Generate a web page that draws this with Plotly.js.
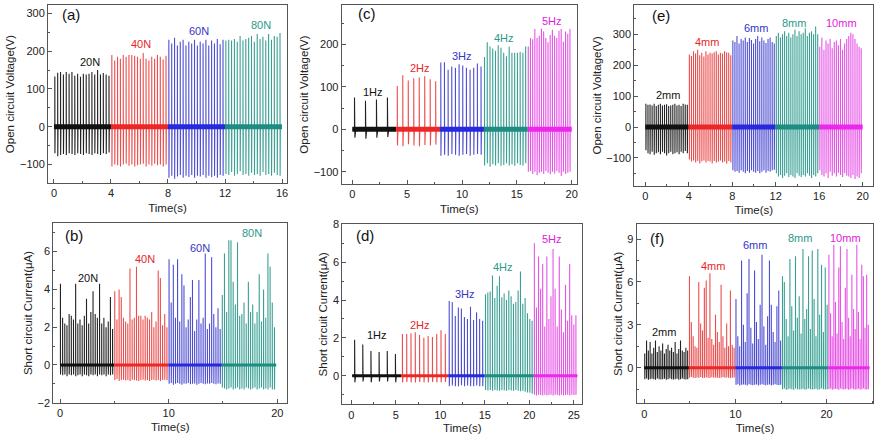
<!DOCTYPE html>
<html><head><meta charset="utf-8">
<script src="https://cdn.plot.ly/plotly-3.0.1.min.js"></script>
<style>html,body{margin:0;padding:0;background:#fff}#g{width:879px;height:434px}</style>
</head><body><div id="g"></div>
<script>
// ---------- (a) force: open circuit voltage (V) ----------
const aLabels = ['20N','40N','60N','80N'];
const aSegs = [[0,4],[4,8],[8,12],[12,16]];
const aPeaks20 = [133,143,145,138,145,140,145,135,140,132,140,138,140,145,138,150,138,142,138,135];
const aTroughs20 = [-70,-78,-75,-72,-75,-70,-72,-75,-70,-72,-75,-70,-72,-75,-70,-72,-75,-70,-72,-68];
const aPeaks40 = [190,175,185,180,190,185,190,190,188,185,180,195,180,175,185,180,190,185,178,188];
const aTroughs40 = [-105,-100,-102,-105,-100,-98,-103,-100,-105,-102,-100,-98,-105,-100,-103,-98,-102,-100,-105,-100];
const aPeaks60 = [230,220,235,215,225,230,215,225,220,230,215,225,220,230,215,228,220,232,218,230];
const aTroughs60 = [-135,-130,-138,-132,-128,-135,-130,-133,-128,-135,-130,-132,-128,-135,-130,-133,-130,-135,-128,-130];
const aPeaks80 = [228,230,228,232,225,240,228,232,235,240,225,245,232,238,228,245,230,240,238,248];
const aTroughs80 = [-125,-128,-120,-130,-125,-118,-128,-125,-130,-122,-128,-125,-130,-120,-128,-125,-130,-122,-128,-130];

// ---------- (b) force: short circuit current (uA) ----------
const bSegs = [[0,5],[5,10],[10,14.9],[14.9,19.9]];
const bPeaks20 = [4.3,2.5,2.2,2.1,2.7,2.6,2.4,4.3,2.2,2.4,2.1,2.6,3.5,2.2,2.8,3.9,2.7,2.5,4.3,2.2,2.5,2.0,2.3,3.6,1.9];
const bTroughs20 = [-0.5,-0.55,-0.5,-0.6,-0.5,-0.55,-0.5,-0.6,-0.55,-0.5,-0.6,-0.5,-0.55,-0.6,-0.5,-0.55,-0.5,-0.6,-0.5,-0.55,-0.5,-0.6,-0.5,-0.55,-0.5];
const bPeaks40 = [3.9,2.4,4.0,3.6,2.5,2.3,2.2,5.1,2.4,2.5,5.2,2.6,2.6,2.4,2.6,2.5,2.4,2.8,2.0,2.3,5.0,4.6,2.1,2.7,2.0];
const bTroughs40 = [-0.8,-0.75,-0.85,-0.8,-0.78,-0.82,-0.8,-0.85,-0.78,-0.8,-0.82,-0.85,-0.8,-0.78,-0.82,-0.8,-0.85,-0.8,-0.78,-0.82,-0.8,-0.85,-0.8,-0.78,-0.8];
const bPeaks60 = [5.6,3.3,5.3,2.5,5.6,2.3,4.8,4.2,2.0,2.4,3.6,4.5,1.8,2.4,4.5,2.2,2.5,5.9,1.9,2.2,5.7,2.7,2.0,3.0,1.9];
const bTroughs60 = [-1.0,-0.95,-1.05,-1.0,-0.95,-1.0,-1.05,-0.98,-1.0,-0.95,-1.02,-1.0,-0.98,-1.05,-1.0,-0.95,-1.0,-1.02,-0.98,-1.0,-0.95,-1.0,-1.02,-0.98,-1.0];
const bPeaks80 = [3.7,5.9,2.8,6.6,6.6,4.4,3.2,6.5,2.6,2.7,3.3,2.2,4.4,2.8,3.2,2.2,2.8,4.8,2.3,4.0,2.5,5.9,5.2,3.3,2.0];
const bTroughs80 = [-1.2,-1.25,-1.3,-1.25,-1.2,-1.3,-1.25,-1.2,-1.3,-1.25,-1.3,-1.2,-1.25,-1.3,-1.25,-1.2,-1.3,-1.25,-1.2,-1.3,-1.25,-1.3,-1.2,-1.3,-1.3];

// ---------- (c) frequency: open circuit voltage (V) ----------
const cLabels = ['1Hz','2Hz','3Hz','4Hz','5Hz'];
const cSegs = [[0,4],[4,8],[8,12],[12,16],[16,20]];
const cPeaks1 = [75,67,70,75];
const cTroughs1 = [-20,-22,-20,-18];
const cPeaks2 = [102,127,115,120,122,125,118,113];
const cTroughs2 = [-38,-40,-35,-38,-40,-37,-38,-36];
const cPeaks3 = [157,158,140,148,145,153,150,145,140,145,155,148];
const cTroughs3 = [-62,-60,-62,-58,-60,-62,-60,-58,-62,-60,-58,-60];
const cPeaks4 = [170,205,195,190,185,198,192,180,172,195,180,180,180,182,180,195];
const cTroughs4 = [-85,-80,-88,-82,-85,-80,-86,-84,-80,-85,-82,-86,-80,-84,-85,-80];
const cPeaks5 = [195,215,212,236,215,220,237,230,215,205,222,234,220,215,232,236,206,230,225,236];
const cTroughs5 = [-100,-98,-105,-100,-108,-102,-100,-105,-98,-102,-106,-100,-104,-98,-102,-110,-100,-105,-102,-100];

// ---------- (d) frequency: short circuit current (uA) ----------
const dSegs = [[0.1,5.6],[5.6,10.9],[10.9,15],[15,20.5],[20.5,25.4]];
const dPeaks1 = [1.9,1.65,1.3,1.25,1.3,1.15];
const dTroughs1 = [-0.35,-0.3,-0.35,-0.3,-0.3,-0.35];
const dPeaks2 = [2.2,2.2,2.25,2.3,2.15,2.0,2.1,2.05,2.2,2.4,2.2];
const dTroughs2 = [-0.35,-0.33,-0.35,-0.35,-0.33,-0.35,-0.35,-0.33,-0.35,-0.35,-0.33];
const dPeaks3 = [3.95,3.9,3.15,3.6,3.55,3.1,3.0,3.65,2.95,3.35,3.0,2.9];
const dTroughs3 = [-0.55,-0.52,-0.55,-0.55,-0.5,-0.55,-0.52,-0.55,-0.55,-0.52,-0.55,-0.55];
const dPeaks4 = [4.3,4.4,4.45,5.3,4.1,4.75,5.25,4.15,4.35,4.0,4.5,4.2,3.8,3.9,4.5,5.5,3.8,4.1,3.3,3.0,2.9];
const dTroughs4 = [-0.75,-0.78,-0.75,-0.8,-0.75,-0.78,-0.8,-0.75,-0.78,-0.8,-0.75,-0.78,-0.8,-0.75,-0.8,-0.82,-0.8,-0.85,-0.88,-0.9,-0.95];
const dPeaks5 = [7.0,3.6,6.3,4.6,5.9,2.6,6.3,3.0,4.2,6.7,4.6,2.6,6.3,3.5,2.3,4.8,2.9,5.9,3.2,2.7,3.2];
const dTroughs5 = [-1.0,-1.05,-1.0,-1.02,-1.05,-1.0,-1.05,-1.02,-1.0,-1.05,-1.0,-1.02,-1.05,-1.0,-1.05,-1.02,-1.0,-1.05,-1.0,-1.02,-1.0];

// ---------- (e) distance: open circuit voltage (V) ----------
const eLabels = ['2mm','4mm','6mm','8mm','10mm'];
const eSegs = [[0,4],[4,8],[8,12],[12,16],[16,20]];
const ePeaks2 = [75,72,73,70,75,68,72,75,70,72,74,68,70,72,75,70,72,68,75,73,72];
const eTroughs2 = [-75,-85,-88,-80,-90,-85,-82,-88,-80,-85,-92,-85,-80,-88,-85,-82,-88,-80,-85,-78,-85];
const ePeaks4 = [235,230,245,238,250,232,240,228,245,235,240,238,242,245,235,240,238,245,242,240,232];
const eTroughs4 = [-105,-112,-108,-115,-110,-118,-112,-108,-115,-110,-112,-118,-110,-115,-112,-108,-115,-112,-118,-110,-115];
const ePeaks6 = [280,275,295,270,285,280,290,275,288,282,270,285,295,278,290,280,272,285,290,275,270];
const eTroughs6 = [-140,-145,-142,-148,-140,-145,-150,-142,-148,-140,-145,-148,-142,-150,-145,-140,-148,-142,-145,-140,-138];
const ePeaks8 = [295,305,290,300,310,295,305,290,300,315,295,310,300,305,320,295,305,310,300,325,300];
const eTroughs8 = [-150,-160,-155,-165,-158,-150,-162,-155,-160,-165,-150,-158,-162,-155,-160,-150,-158,-165,-155,-160,-150];
const ePeaks10 = [260,290,250,280,270,285,255,275,280,265,285,250,270,285,295,305,300,285,270,260,255];
const eTroughs10 = [-140,-155,-160,-150,-165,-145,-158,-150,-160,-148,-155,-162,-150,-158,-160,-165,-155,-168,-160,-165,-150];

// ---------- (f) distance: short circuit current (uA) ----------
const fSegs = [[0,4.9],[4.9,10],[10,15.1],[15.1,20.2],[20.2,24.7]];
const fPeaks2 = [1.0,1.9,1.2,1.8,1.0,1.4,1.9,1.1,1.5,1.2,1.7,1.0,1.3,1.6,1.2,1.4,1.1,1.8,1.0,1.3,1.9,1.2,1.1,1.4,1.2];
const fTroughs2 = [-0.8,-0.75,-0.85,-0.8,-0.78,-0.8,-0.85,-0.75,-0.8,-0.82,-0.8,-0.78,-0.85,-0.8,-0.75,-0.8,-0.82,-0.8,-0.78,-0.85,-0.8,-0.75,-0.8,-0.82,-0.8];
const fPeaks4 = [6.4,3.2,2.2,1.5,1.4,6.0,3.1,2.6,5.6,6.1,2.1,6.6,2.0,1.6,3.7,2.5,1.8,5.8,2.2,1.4,3.1,1.5,5.4,1.6,1.4];
const fTroughs4 = [-0.7,-0.65,-0.7,-0.72,-0.68,-0.7,-0.65,-0.72,-0.7,-0.68,-0.7,-0.72,-0.65,-0.7,-0.68,-0.7,-0.72,-0.7,-0.65,-0.7,-0.68,-0.7,-0.72,-0.7,-0.68];
const fPeaks6 = [4.8,2.2,1.5,7.5,3.0,1.8,5.2,7.6,2.8,1.7,6.8,3.2,2.0,4.4,7.9,2.9,1.6,3.6,7.5,4.4,2.5,1.8,4.3,5.4,1.9];
const fTroughs6 = [-1.2,-1.15,-1.25,-1.2,-1.18,-1.2,-1.25,-1.15,-1.2,-1.22,-1.2,-1.18,-1.25,-1.2,-1.15,-1.2,-1.22,-1.2,-1.18,-1.25,-1.2,-1.15,-1.2,-1.22,-1.2];
const fPeaks8 = [6.4,6.0,3.4,2.2,7.6,4.3,2.6,7.8,3.5,5.0,2.4,8.3,3.4,4.1,7.8,2.7,8.2,4.8,2.2,8.3,3.7,7.2,2.5,7.0,4.4];
const fTroughs8 = [-1.5,-1.45,-1.55,-1.5,-1.48,-1.5,-1.55,-1.45,-1.5,-1.52,-1.5,-1.48,-1.55,-1.5,-1.45,-1.5,-1.52,-1.5,-1.48,-1.55,-1.5,-1.45,-1.5,-1.52,-1.5];
const fPeaks10 = [7.9,3.8,2.2,8.6,4.6,2.4,7.0,8.5,3.2,2.0,5.6,8.3,3.5,2.2,6.5,4.1,2.7,8.6,3.9,2.0,7.2,6.4,2.8,6.5,3.0];
const fTroughs10 = [-1.5,-1.45,-1.55,-1.5,-1.48,-1.5,-1.55,-1.45,-1.5,-1.52,-1.5,-1.48,-1.55,-1.5,-1.45,-1.5,-1.52,-1.5,-1.48,-1.55,-1.5,-1.45,-1.5,-1.52,-1.5];

// ---------- styling ----------
const lineCols = ['#222222','rgb(236,78,78)','rgb(78,78,212)','rgb(58,160,148)','rgb(230,84,230)'];
const baseCols = ['#111111','rgb(235,40,40)','rgb(40,40,220)','rgb(30,140,128)','rgb(235,40,235)'];
const textCols = ['#111111','#e8262a','#3434c8','#2a9a8a','#e020e0'];
const FONT = 'Arial, "Liberation Sans", sans-serif';

function segTrace(seg, peaks, troughs, color, xa, ya, frac) {
  const n = peaks.length, step = (seg[1]-seg[0])/n, w = step*0.12;
  const x = [seg[0]], y = [0];
  for (let i=0;i<n;i++){
    const t = seg[0] + (i+frac)*step;
    x.push(t, t, t+w*0.3, t+w); y.push(0, peaks[i], troughs[i], 0);
  }
  x.push(seg[1]); y.push(0);
  return {x, y, type:'scatter', mode:'lines', xaxis:xa, yaxis:ya, hoverinfo:'skip',
          line:{color, width:1.1}, showlegend:false};
}
function baseTrace(seg, color, xa, ya, width) {
  return {x:[seg[0], seg[1]], y:[0,0], type:'scatter', mode:'lines', xaxis:xa, yaxis:ya,
          hoverinfo:'skip', line:{color, width}, showlegend:false};
}

const traces = [];
const panels = [
  {xa:'x', ya:'y', segs:aSegs, bw:5, data:[[aPeaks20,aTroughs20],[aPeaks40,aTroughs40],[aPeaks60,aTroughs60],[aPeaks80,aTroughs80]], frac:0.3},
  {xa:'x2', ya:'y2', segs:cSegs, bw:5, data:[[cPeaks1,cTroughs1],[cPeaks2,cTroughs2],[cPeaks3,cTroughs3],[cPeaks4,cTroughs4],[cPeaks5,cTroughs5]], frac:0.2},
  {xa:'x3', ya:'y3', segs:eSegs, bw:5, data:[[ePeaks2,eTroughs2],[ePeaks4,eTroughs4],[ePeaks6,eTroughs6],[ePeaks8,eTroughs8],[ePeaks10,eTroughs10]], frac:0.3},
  {xa:'x4', ya:'y4', segs:bSegs, bw:3, data:[[bPeaks20,bTroughs20],[bPeaks40,bTroughs40],[bPeaks60,bTroughs60],[bPeaks80,bTroughs80]], frac:0.2},
  {xa:'x5', ya:'y5', segs:dSegs, bw:3, data:[[dPeaks1,dTroughs1],[dPeaks2,dTroughs2],[dPeaks3,dTroughs3],[dPeaks4,dTroughs4],[dPeaks5,dTroughs5]], frac:0.3},
  {xa:'x6', ya:'y6', segs:fSegs, bw:3, data:[[fPeaks2,fTroughs2],[fPeaks4,fTroughs4],[fPeaks6,fTroughs6],[fPeaks8,fTroughs8],[fPeaks10,fTroughs10]], frac:0.3}
];
panels.forEach(p => p.data.forEach((d,i) => {
  traces.push(segTrace(p.segs[i], d[0], d[1], lineCols[i], p.xa, p.ya, p.frac));
  traces.push(baseTrace(p.segs[i], baseCols[i], p.xa, p.ya, p.bw));
}));

function xAxis(dom, range, dtick, anchor) {
  return {domain:dom, range, dtick, tick0:0, anchor, showgrid:false, zeroline:false,
    showline:true, mirror:true, linecolor:'#555', linewidth:1, ticks:'inside', ticklen:4, tickcolor:'#555',
    minor:{ticks:'inside', ticklen:2, dtick:dtick/2, tickcolor:'#555'},
    tickfont:{family:FONT, size:11, color:'#222'},
    title:{text:'Time(s)', font:{family:FONT, size:11.5, color:'#222'}, standoff:5}};
}
function yAxis(dom, range, dtick, anchor, title) {
  return {domain:dom, range, dtick, tick0:0, anchor, showgrid:false, zeroline:false,
    showline:true, mirror:true, linecolor:'#555', linewidth:1, ticks:'inside', ticklen:4, tickcolor:'#555',
    minor:{ticks:'inside', ticklen:2, dtick:dtick/2, tickcolor:'#555'},
    tickfont:{family:FONT, size:11, color:'#222'},
    title:{text:title, font:{family:FONT, size:11.5, color:'#222'}, standoff:2}};
}
const VT = 'Open circuit Voltage(V)', IT = 'Short circuit Current(\u03bcA)';

const layout = {
  width:879, height:434, margin:{l:0,r:0,t:0,b:0}, paper_bgcolor:'#fff', plot_bgcolor:'#fff',
  showlegend:false, font:{family:FONT},
  xaxis:  xAxis([0.0546,0.3265], [-0.42,16.35], 4, 'y'),
  yaxis:  yAxis([0.5783,0.9885], [-149,322], 100, 'x', VT),
  xaxis2: xAxis([0.3887,0.6564], [-0.97,20.48], 5, 'y2'),
  yaxis2: yAxis([0.576,0.9885], [-128.7,292.5], 100, 'x2', VT),
  xaxis3: xAxis([0.7216,0.9935], [-1.01,20.98], 4, 'y3'),
  yaxis3: yAxis([0.5721,0.9885], [-190,395], 100, 'x3', VT),
  xaxis4: xAxis([0.0606,0.3268], [-0.62,20.92], 10, 'y4'),
  yaxis4: yAxis([0.0721,0.4855], [-2,7.5], 2, 'x4', IT),
  xaxis5: xAxis([0.3894,0.6625], [-1.01,25.96], 5, 'y5'),
  yaxis5: yAxis([0.0684,0.4832], [-1.51,8], 2, 'x5', IT),
  xaxis6: xAxis([0.7243,0.9935], [-0.83,25.12], 10, 'y6'),
  yaxis6: yAxis([0.0707,0.4832], [-2.49,10.03], 3, 'x6', IT),
  annotations:[]
};

// label positions (data coords) per panel
const labelSets = [
  {xa:'x', ya:'y', tag:'(a)', tagPos:[0.45,297], labels:aLabels, pos:[[2.5,170],[6.1,218],[10.2,252],[14.5,270]]},
  {xa:'x2', ya:'y2', tag:'(c)', tagPos:[0.3,272], labels:cLabels, pos:[[1.9,88],[6.15,144],[10.0,172],[13.8,215],[18.2,255]]},
  {xa:'x3', ya:'y3', tag:'(e)', tagPos:[0.4,362], labels:eLabels, pos:[[2.1,104],[5.65,275],[10.2,320],[13.7,337],[18.1,337]]},
  {xa:'x4', ya:'y4', tag:'(b)', tagPos:[0.3,6.85], labels:aLabels, pos:[[2.6,4.6],[7.8,5.6],[12.9,6.2],[17.7,7.0]]},
  {xa:'x5', ya:'y5', tag:'(d)', tagPos:[0.25,7.4], labels:cLabels, pos:[[2.9,2.15],[7.7,2.7],[12.8,4.3],[17.0,5.75],[22.6,7.2]]},
  {xa:'x6', ya:'y6', tag:'(f)', tagPos:[0.45,9.05], labels:eLabels, pos:[[2.2,2.5],[7.5,7.1],[12.1,8.6],[17.1,9.1],[22.1,9.1]]}
];
labelSets.forEach(s => {
  layout.annotations.push({xref:s.xa, yref:s.ya, x:s.tagPos[0], y:s.tagPos[1], text:s.tag, showarrow:false,
    xanchor:'left', font:{family:FONT, size:15, color:'#111'}});
  s.labels.forEach((t,i) => layout.annotations.push({xref:s.xa, yref:s.ya, x:s.pos[i][0], y:s.pos[i][1], text:t,
    showarrow:false, font:{family:FONT, size:11, color:textCols[i]}}));
});

Plotly.newPlot('g', traces, layout, {staticPlot:true, displayModeBar:false});
</script></body></html>
